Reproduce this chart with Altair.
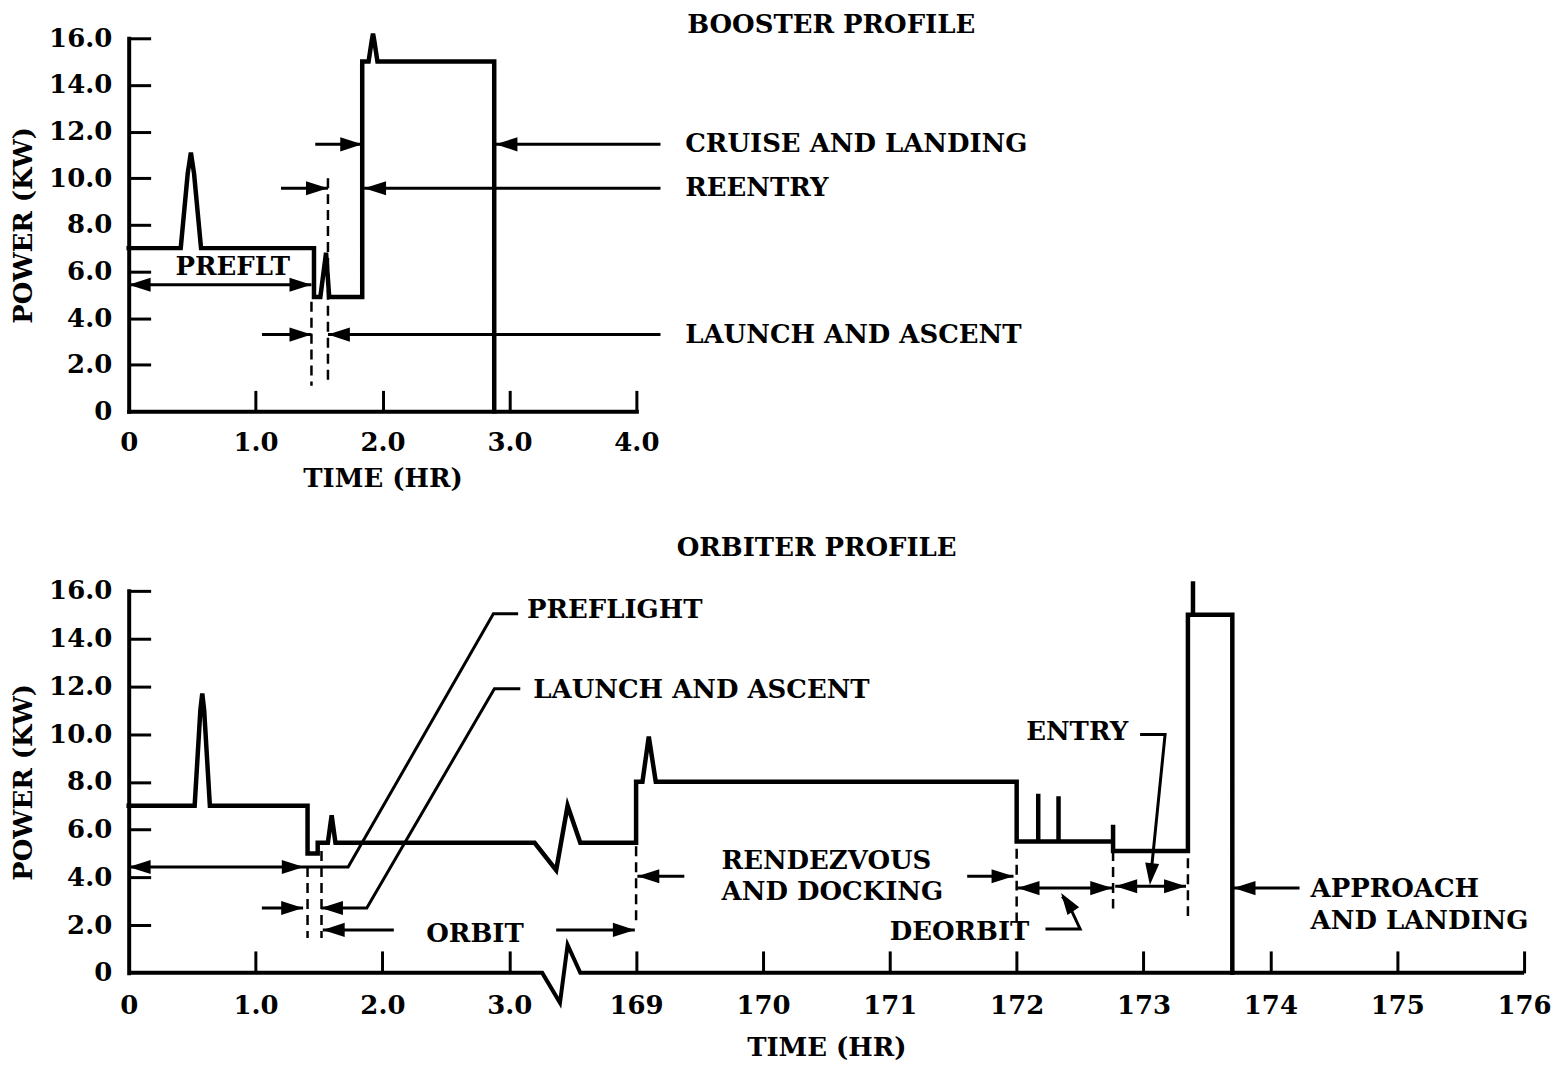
import altair as alt
import pandas as pd

FONT = "DejaVu Serif"
FS = 26

# ---------------- BOOSTER PROFILE (top panel) ----------------
BOOSTER_T = [0, 0.41, 0.465, 0.49, 0.515, 0.57, 1.46, 1.46, 1.51, 1.555, 1.58,
             1.84, 1.84, 1.89, 1.915, 1.925, 1.935, 1.96, 2.88, 2.88]
BOOSTER_KW = [7.0, 7.0, 10.2, 11.1, 10.2, 7.0, 7.0, 4.9, 4.9, 6.8, 4.9,
              4.9, 15.0, 15.0, 15.9, 16.2, 15.9, 15.0, 15.0, 0.0]
BOOSTER_X_TICKS = [0, 1, 2, 3, 4]
Y_TICKS = [0, 2, 4, 6, 8, 10, 12, 14, 16]

BOOSTER_DASH_T = [1.44, 1.57]
BOOSTER_DASH_FROM = [4.7, 10.0]
BOOSTER_DASH_TO = [1.1, 1.1]

BOOSTER_LEADERS = [
    [(0.0, 5.43), (1.44, 5.43)],            # PREFLT
    [(1.47, 11.45), (1.84, 11.45)],         # cruise, left arrow
    [(4.19, 11.45), (2.89, 11.45)],         # cruise, right arrow
    [(1.20, 9.57), (1.57, 9.57)],           # reentry, left arrow
    [(4.19, 9.57), (1.855, 9.57)],          # reentry, right arrow
    [(1.05, 3.29), (1.44, 3.29)],           # launch, left arrow
    [(4.19, 3.29), (1.57, 3.29)],           # launch, right arrow
]
BOOSTER_HEAD_T = [0.0, 1.44, 1.84, 2.89, 1.57, 1.855, 1.44, 1.57]
BOOSTER_HEAD_KW = [5.43, 5.43, 11.45, 11.45, 9.57, 9.57, 3.29, 3.29]
BOOSTER_HEAD_ANGLE = [180, 0, 0, 180, 0, 180, 0, 180]

BOOSTER_TEXT = ["PREFLT", "CRUISE AND LANDING", "REENTRY", "LAUNCH AND ASCENT", "BOOSTER PROFILE"]
BOOSTER_TEXT_T = [0.82, 4.385, 4.385, 4.385, 4.40]
BOOSTER_TEXT_KW = [6.2, 11.45, 9.57, 3.29, 16.58]
BOOSTER_TEXT_ALIGN = ["center", "left", "left", "left", "left"]

# ---------------- ORBITER PROFILE (bottom panel) ----------------
# x positions are axis positions: 0..3 = 0-3 hr, 4..11 = 169-176 hr (broken axis)
ORBITER_TICK_LABELS = ["0", "1.0", "2.0", "3.0", "169", "170", "171", "172", "173", "174", "175", "176"]
ORBITER_POS = [0, 0.52, 0.565, 0.58, 0.595, 0.64, 1.41, 1.41, 1.49, 1.49, 1.57, 1.60, 1.63,
               3.20, 3.37, 3.46, 3.56, 4.0, 4.0, 4.05, 4.10, 4.155, 7.0, 7.0,
               7.17, 7.17, 7.17, 7.33, 7.33, 7.33, 7.76, 7.76, 7.76, 8.35, 8.35,
               8.39, 8.39, 8.39, 8.70, 8.70]
ORBITER_KW = [7.0, 7.0, 11.0, 11.7, 11.0, 7.0, 7.0, 5.0, 5.0, 5.45, 5.45, 6.6, 5.45,
              5.45, 4.3, 7.0, 5.45, 5.45, 8.0, 8.0, 9.9, 8.0, 8.0, 5.5,
              5.5, 7.5, 5.5, 5.5, 7.4, 5.5, 5.5, 6.2, 5.1, 5.1, 15.0,
              15.0, 16.4, 15.0, 15.0, 0.0]
ORBITER_AXIS_POS = [0, 3.26, 3.40, 3.46, 3.56, 11]
ORBITER_AXIS_KW = [0, 0, -1.25, 1.17, 0, 0]

ORBITER_DASH_POS = [1.41, 1.52, 4.0, 7.0, 7.76, 8.35]
ORBITER_DASH_FROM = [4.43, 5.1, 5.3, 5.2, 5.1, 4.8]
ORBITER_DASH_TO = [1.46, 1.46, 1.96, 2.05, 2.7, 2.3]

ORBITER_LEADERS = [
    [(0.0, 4.43), (1.73, 4.43), (2.875, 15.04), (3.07, 15.04)],      # preflight
    [(1.05, 2.72), (1.375, 2.72)],                                   # launch, left
    [(1.516, 2.72), (1.877, 2.72), (2.883, 11.9), (3.087, 11.9)],    # launch, right
    [(2.09, 1.80), (1.53, 1.80)],                                    # orbit, left
    [(3.37, 1.80), (3.99, 1.80)],                                    # orbit, right
    [(4.38, 4.05), (4.01, 4.05)],                                    # rendezvous, left
    [(6.61, 4.05), (6.975, 4.05)],                                   # rendezvous, right
    [(7.007, 3.55), (7.753, 3.55)],                                  # deorbit span
    [(7.227, 1.84), (7.50, 1.84), (7.42, 2.75), (7.36, 3.2)],        # deorbit leader
    [(7.777, 3.63), (8.335, 3.63)],                                  # entry span
    [(7.973, 9.98), (8.17, 9.98), (8.06, 4.2)],                      # entry leader
    [(9.23, 3.55), (8.71, 3.55)],                                    # approach
]
ORBITER_HEAD_POS = [0.0, 1.38, 1.375, 1.516, 1.53, 3.99, 4.01, 6.975,
                    7.007, 7.753, 7.35, 7.777, 8.335, 8.05, 8.71]
ORBITER_HEAD_KW = [4.43, 4.43, 2.72, 2.72, 1.80, 1.80, 4.05, 4.05,
                   3.55, 3.55, 3.35, 3.63, 3.63, 3.68, 3.55]
ORBITER_HEAD_ANGLE = [180, 0, 0, 180, 180, 0, 180, 0,
                      180, 0, 236, 180, 0, 96, 180]

ORBITER_TEXT = ["PREFLIGHT", "LAUNCH AND ASCENT", "ORBIT", "RENDEZVOUS", "AND DOCKING",
                "DEORBIT", "ENTRY", "APPROACH", "AND LANDING", "ORBITER PROFILE"]
ORBITER_TEXT_POS = [3.14, 3.19, 2.73, 4.674, 4.674, 7.10, 7.879, 9.317, 9.317, 4.32]
ORBITER_TEXT_KW = [15.2, 11.86, 1.63, 4.68, 3.38, 1.71, 10.07, 3.51, 2.17, 17.8]
ORBITER_TEXT_ALIGN = ["left", "left", "center", "left", "left", "right", "right", "left", "left", "left"]

ARROW = "M0,0L-1,-0.32L-1,0.32Z"
HEAD_SIZE = 1936

W1, H1 = 509, 374
W2, H2 = 1399, 383

ZERO_OR_1F = "datum.value == 0 ? '0' : format(datum.value, '.1f')"
ORB_LABEL_EXPR = "[" + ",".join("'%s'" % s for s in ORBITER_TICK_LABELS) + "][datum.value]"


def leaders_df(leaders):
    rows = []
    for k, pts in enumerate(leaders):
        for i, (x, y) in enumerate(pts):
            rows.append({"id": k, "i": i, "x": x, "y": y})
    return pd.DataFrame(rows)


def panel(line_x, line_y, dash_x, dash_from, dash_to, leaders, head_x, head_y, head_a,
          texts, text_x, text_y, text_align, xdom, width, height,
          x_label_axis, x_tick_axis, y_label_axis, y_tick_axis, axis_line=None):
    xs = alt.Scale(domain=xdom, nice=False, zero=False)
    ys = alt.Scale(domain=[0, 16], nice=False)

    def X(f, axis=None):
        return alt.X(f, type="quantitative", scale=xs, axis=axis)

    def Y(f, axis=None):
        return alt.Y(f, type="quantitative", scale=ys, axis=axis)

    line_df = pd.DataFrame({"x": line_x, "y": line_y, "i": list(range(len(line_x)))})
    main = alt.Chart(line_df).mark_line(color="black", strokeWidth=4.5, strokeJoin="miter",
                                        strokeCap="square").encode(
        x=X("x", x_label_axis), y=Y("y", y_label_axis), order="i:Q")

    dash_df = pd.DataFrame({"x": dash_x, "y": dash_from, "y2": dash_to})
    dashes = alt.Chart(dash_df).mark_rule(color="black", strokeWidth=2.5, strokeDash=[10, 6]).encode(
        x=X("x", x_tick_axis), y=Y("y", y_tick_axis), y2="y2:Q")

    lead = alt.Chart(leaders_df(leaders)).mark_line(color="black", strokeWidth=3).encode(
        x=X("x"), y=Y("y"), detail="id:N", order="i:Q")

    head_df = pd.DataFrame({"x": head_x, "y": head_y, "a": head_a})
    heads = alt.Chart(head_df).mark_point(shape=ARROW, size=HEAD_SIZE, filled=True, opacity=1,
                                          color="black", strokeWidth=0).encode(
        x=X("x"), y=Y("y"), angle=alt.Angle("a:Q", scale=None))

    text_df = pd.DataFrame({"t": texts, "x": text_x, "y": text_y, "al": text_align})
    tlayers = []
    for al in ["left", "center", "right"]:
        sub = text_df[text_df["al"] == al]
        if len(sub):
            tlayers.append(alt.Chart(sub).mark_text(font=FONT, fontSize=FS, fontWeight="bold",
                                                    align=al, baseline="middle", color="black").encode(
                x=X("x"), y=Y("y"), text="t:N"))

    layers = [main, dashes, lead, heads] + tlayers
    if axis_line is not None:
        ax_df = pd.DataFrame({"x": axis_line[0], "y": axis_line[1], "i": list(range(len(axis_line[0])))})
        layers.insert(0, alt.Chart(ax_df).mark_line(color="black", strokeWidth=4, strokeJoin="miter").encode(
            x=X("x"), y=Y("y"), order="i:Q"))
    return alt.layer(*layers).resolve_axis(x="independent", y="independent").properties(
        width=width, height=height)


common_y_label = dict(values=Y_TICKS, labelExpr=ZERO_OR_1F, ticks=False, domain=True, domainWidth=4,
                      domainColor="black", domainCap="square", labelPadding=17, title="POWER (KW)",
                      titlePadding=12, grid=False, labelFlush=False, labelOverlap=False)

top = panel(
    BOOSTER_T, BOOSTER_KW, BOOSTER_DASH_T, BOOSTER_DASH_FROM, BOOSTER_DASH_TO,
    BOOSTER_LEADERS, BOOSTER_HEAD_T, BOOSTER_HEAD_KW, BOOSTER_HEAD_ANGLE,
    BOOSTER_TEXT, BOOSTER_TEXT_T, BOOSTER_TEXT_KW, BOOSTER_TEXT_ALIGN,
    [0, 4], W1, H1,
    x_label_axis=alt.Axis(values=BOOSTER_X_TICKS, labelExpr=ZERO_OR_1F, ticks=False, domain=True,
                          domainWidth=4, domainColor="black", domainCap="square", labelPadding=18,
                          title="TIME (HR)", titlePadding=10, grid=False, labelFlush=False,
                          labelOverlap=False),
    x_tick_axis=alt.Axis(orient="top", offset=-H1, values=BOOSTER_X_TICKS[1:], labels=False, domain=False,
                         ticks=True, tickSize=21, tickWidth=3, tickColor="black", title=None, grid=False),
    y_label_axis=alt.Axis(**common_y_label),
    y_tick_axis=alt.Axis(orient="right", offset=-W1, values=Y_TICKS[1:], labels=False, domain=False,
                         ticks=True, tickSize=22, tickWidth=3, tickColor="black", title=None, grid=False),
)

bottom = panel(
    ORBITER_POS, ORBITER_KW, ORBITER_DASH_POS, ORBITER_DASH_FROM, ORBITER_DASH_TO,
    ORBITER_LEADERS, ORBITER_HEAD_POS, ORBITER_HEAD_KW, ORBITER_HEAD_ANGLE,
    ORBITER_TEXT, ORBITER_TEXT_POS, ORBITER_TEXT_KW, ORBITER_TEXT_ALIGN,
    [0, 11], W2, H2,
    x_label_axis=alt.Axis(values=list(range(len(ORBITER_TICK_LABELS))), labelExpr=ORB_LABEL_EXPR, ticks=False,
                          domain=False, labelPadding=20, title="TIME (HR)", titlePadding=16, grid=False,
                          labelFlush=False, labelOverlap=False),
    x_tick_axis=alt.Axis(orient="top", offset=-H2, values=list(range(1, len(ORBITER_TICK_LABELS))),
                         labels=False, domain=False, ticks=True, tickSize=22, tickWidth=3,
                         tickColor="black", title=None, grid=False),
    y_label_axis=alt.Axis(**common_y_label),
    y_tick_axis=alt.Axis(orient="right", offset=-W2, values=Y_TICKS[1:], labels=False, domain=False,
                         ticks=True, tickSize=22, tickWidth=3, tickColor="black", title=None, grid=False),
    axis_line=(ORBITER_AXIS_POS, ORBITER_AXIS_KW),
)

chart = alt.vconcat(top, bottom, spacing=43).properties(padding=2, background="white").configure_view(
    stroke=None).configure_axis(
    labelFont=FONT, labelFontSize=FS, labelFontWeight="bold", labelColor="black",
    titleFont=FONT, titleFontSize=FS, titleFontWeight="bold", titleColor="black")

chart.save("out.html", embed_options={"renderer": "svg", "actions": False})
